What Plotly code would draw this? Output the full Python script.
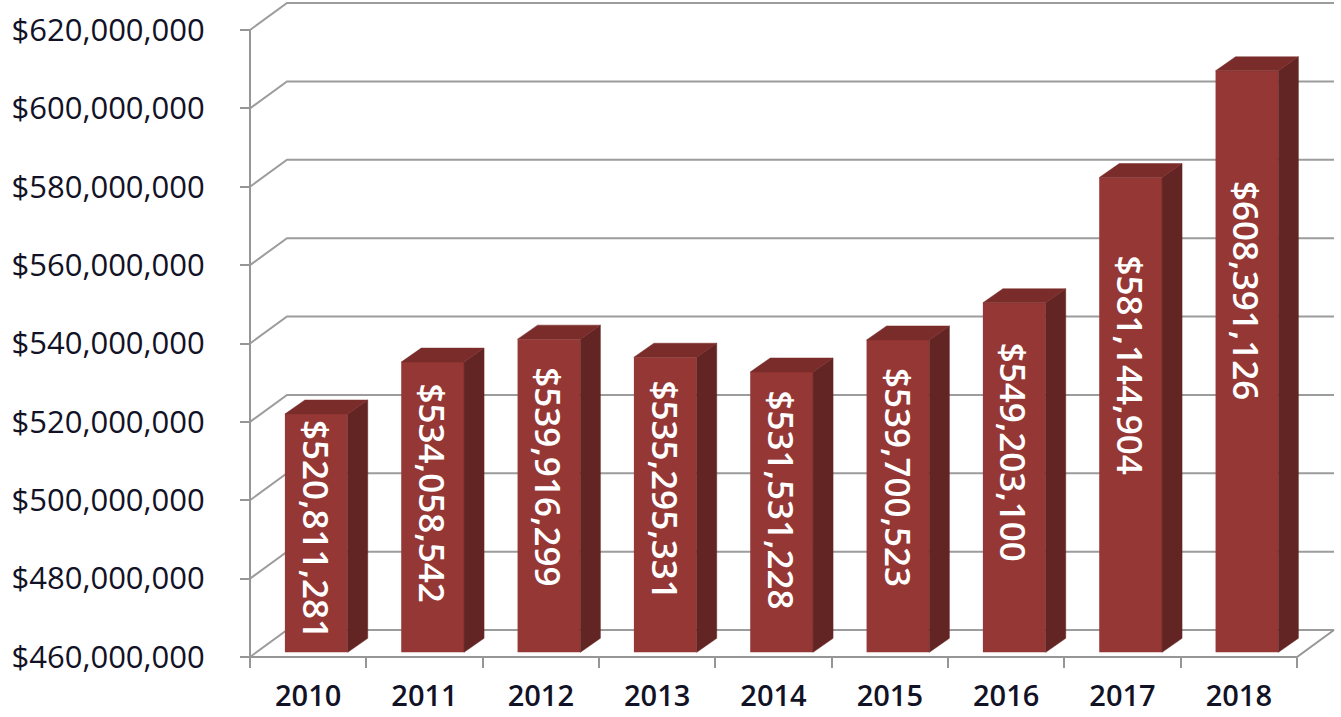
import plotly.graph_objects as go

# ---------------- data ----------------
years = ["2010", "2011", "2012", "2013", "2014", "2015", "2016", "2017", "2018"]
revenue = [520811281, 534058542, 539916299, 535295331, 531531228,
           539700523, 549203100, 581144904, 608391126]
y_tick_values = [460e6, 480e6, 500e6, 520e6, 540e6, 560e6, 580e6, 600e6, 620e6]
y_tick_labels = ["$460,000,000", "$480,000,000", "$500,000,000", "$520,000,000",
                 "$540,000,000", "$560,000,000", "$580,000,000", "$600,000,000",
                 "$620,000,000"]
bar_labels = ["${:,}".format(v) for v in revenue]

# ---------------- geometry (pixels) ----------------
W, H = 1341, 717
AX_X, FLOOR_RIGHT_X, FLOOR_Y, TOP_Y = 250, 1297, 657, 30
PLOT_L, PLOT_B = 246, 661
n = len(years)
px_cat = (FLOOR_RIGHT_X - AX_X) / n
y_lo, y_hi = y_tick_values[0], y_tick_values[-1]
px_val = (FLOOR_Y - TOP_Y) / (y_hi - y_lo)

x_range = [-0.5 - (AX_X - PLOT_L) / px_cat, -0.5 + (W - AX_X) / px_cat]
y_range = [y_lo - (PLOT_B - FLOOR_Y) / px_val, y_lo + FLOOR_Y / px_val]
bar_shift = 4.7 / px_val
y2_range = [y_range[0] - bar_shift, y_range[1] - bar_shift]

wall_dx = 37 / px_cat
wall_dy = 27 / px_val
bar_w, bar_off = 0.54, -0.2
side_dx = 20 / px_cat
side_dy = 14 / px_val

GRID = "#9c9c9c"
FRONT = "#953735"
SIDE = "#632523"
TOPC = "#7a2c2a"
TXT = "#121226"

fig = go.Figure()

# back wall gridlines
gx, gy = [], []
for v in y_tick_values:
    gx += [-0.5, -0.5 + wall_dx, n - 0.5 + wall_dx, None]
    gy += [v, v + wall_dy, v + wall_dy, None]
fig.add_trace(go.Scatter(x=gx, y=gy, mode="lines", line=dict(color=GRID, width=2),
                         hoverinfo="skip", showlegend=False))
# left axis line + floor
fig.add_trace(go.Scatter(x=[-0.5, -0.5, None, -0.5, n - 0.5, n - 0.5 + wall_dx],
                         y=[y_hi, y_lo, None, y_lo, y_lo, y_lo + wall_dy],
                         mode="lines", line=dict(color="#969696", width=2),
                         hoverinfo="skip", showlegend=False))

# bars (front faces)
fig.add_trace(go.Bar(x=list(range(n)), y=[v - y_lo for v in revenue], base=y_lo,
                     width=bar_w, offset=bar_off, marker=dict(color=FRONT, line=dict(width=0)),
                     yaxis="y2", hoverinfo="skip", showlegend=False))

# side and top faces
sx, sy, tx, ty = [], [], [], []
for i, v in enumerate(revenue):
    xl = i + bar_off
    xr = xl + bar_w
    sx += [xr, xr + side_dx, xr + side_dx, xr, xr, None]
    sy += [y_lo, y_lo + side_dy, v + side_dy, v, y_lo, None]
    tx += [xl, xl + side_dx, xr + side_dx, xr, xl, None]
    ty += [v, v + side_dy, v + side_dy, v, v, None]
fig.add_trace(go.Scatter(x=sx, y=sy, mode="lines", fill="toself", fillcolor=SIDE,
                         line=dict(color=SIDE, width=0.5), yaxis="y2",
                         hoverinfo="skip", showlegend=False))
fig.add_trace(go.Scatter(x=tx, y=ty, mode="lines", fill="toself", fillcolor=TOPC,
                         line=dict(color=TOPC, width=0.5), yaxis="y2",
                         hoverinfo="skip", showlegend=False))

# value labels (rotated)
for i, v in enumerate(revenue):
    fig.add_annotation(x=i + bar_off + bar_w / 2,
                       y=y_lo + 0.694 * (v - y_lo) - 9.6e6,
                       xref="x", yref="y", text=bar_labels[i], textangle=90,
                       showarrow=False, xanchor="center", yanchor="middle",
                       font=dict(family="Open Sans", size=35, color="white", weight=600))

fig.update_layout(
    width=W, height=H, template="none",
    paper_bgcolor="white", plot_bgcolor="white",
    margin=dict(l=PLOT_L, r=0, t=0, b=H - PLOT_B, pad=0),
    showlegend=False,
    xaxis=dict(range=x_range, anchor="free", position=(PLOT_B - FLOOR_Y) / PLOT_B,
               tickmode="array", tickvals=list(range(n)), ticktext=years,
               ticks="", showgrid=False, zeroline=False, showline=False,
               tickfont=dict(family="Open Sans", size=29, color=TXT, weight=600),
               ticklabelstandoff=19,
               minor=dict(tickvals=[i - 0.5 for i in range(n + 1)], ticks="outside",
                          ticklen=10, tickwidth=2, tickcolor="#969696", showgrid=False)),
    yaxis=dict(range=y_range, anchor="free", position=(AX_X - PLOT_L) / (W - PLOT_L),
               tickmode="array", tickvals=y_tick_values, ticktext=y_tick_labels,
               ticks="outside", ticklen=10, tickwidth=2, tickcolor="#969696",
               showgrid=False, zeroline=False, showline=False,
               tickfont=dict(family="Open Sans", size=31, color=TXT, weight=500),
               ticklabelstandoff=29),
    yaxis2=dict(range=y2_range, overlaying="y", anchor="x", visible=False,
                showgrid=False, zeroline=False),
)

fig.write_html("out.html")
